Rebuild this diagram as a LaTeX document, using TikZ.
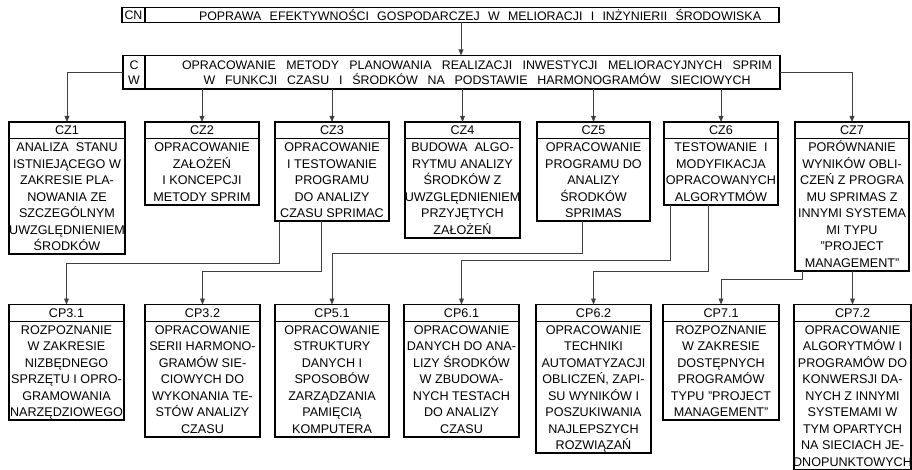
\documentclass[tikz,border=0pt]{standalone}
\usepackage{fontspec}
\setmainfont{Liberation Sans}
\usetikzlibrary{arrows.meta,calc}

\newlength\wordgap
\setlength\wordgap{7pt plus 2pt minus 1pt}

% task box: name, left x, top y, width, number of body lines, header, body
\newcommand\taskbox[7]{%
  \pgfmathsetmacro\boxh{16.5+#5*16.55}%
  \node[frame, minimum width=#4pt, minimum height=\boxh pt] (#1) at (#2,#3) {};
  \node[headtext] (#1-head) at ($(#1.north)+(0,8.3)$) {#6};
  \draw[divider] ($(#1.north west)+(0,16.5)$) -- ($(#1.north east)+(0,16.5)$);
  \node[bodytext] (#1-body) at ($(#1.north)+(0,17.3)$) {\spaceskip=\wordgap\relax\rule{0pt}{12pt}#7};
}

\begin{document}
\begin{tikzpicture}[x=1pt,y=-1pt,
  frame/.style={rectangle, draw=black, line width=1.9pt, anchor=north west, inner sep=0pt, outer sep=0pt},
  cell/.style={draw=black, line width=1.5pt},
  divider/.style={draw=black, line width=0.8pt},
  headtext/.style={inner sep=0pt, font=\fontsize{12.6}{15}\selectfont},
  bodytext/.style={anchor=north, inner sep=0pt, align=center,
    font=\fontsize{12.6}{16.55}\selectfont},
  toptext/.style={inner sep=0pt, align=center, font=\fontsize{12.4}{15}\selectfont},
  conn/.style={draw=black!75, line width=0.8pt, -{Triangle[length=6pt,width=4.8pt]}}]

\useasboundingbox[fill=white] (0,0) rectangle (912,470);

% main goal
\node[frame, minimum width=657pt, minimum height=15pt] (cn) at (122,7.5) {};
\draw[cell] ($(cn.north west)+(23,0)$) -- ($(cn.south west)+(23,0)$);
\node[toptext] (cn-tag) at ($(cn.west)+(11.5,0)$) {CN};
\node[toptext] (cn-text) at (480,15)
  {\makebox[562pt][s]{POPRAWA EFEKTYWNOŚCI GOSPODARCZEJ W MELIORACJI I INŻYNIERII ŚRODOWISKA}};

% work goal
\node[frame, minimum width=657pt, minimum height=33.5pt] (cw) at (123,55.5) {};
\draw[cell] ($(cw.north west)+(22,0)$) -- ($(cw.south west)+(22,0)$);
\node[toptext] (cw-tag) at ($(cw.west)+(11,0)$) {C\\W};
\node[toptext] (cw-text) at (477,73)
  {\makebox[590pt][s]{OPRACOWANIE METODY PLANOWANIA REALIZACJI INWESTYCJI MELIORACYJNYCH SPRIM}\\
   \makebox[547pt][s]{W FUNKCJI CZASU I ŚRODKÓW NA PODSTAWIE HARMONOGRAMÓW SIECIOWYCH}};

% partial goals
\taskbox{cz1}{9}{122}{116}{7}{CZ1}{ANALIZA STANU\\ISTNIEJĄCEGO W\\ZAKRESIE PLA-\\NOWANIA ZE\\SZCZEGÓLNYM\\UWZGLĘDNIENIEM\\ŚRODKÓW}
\taskbox{cz2}{145}{122}{114}{4}{CZ2}{OPRACOWANIE\\ZAŁOŻEŃ\\I KONCEPCJI\\METODY SPRIM}
\taskbox{cz3}{275}{122}{114}{5}{CZ3}{OPRACOWANIE\\I TESTOWANIE\\PROGRAMU\\DO ANALIZY\\CZASU SPRIMAC}
\taskbox{cz4}{405}{122}{115}{6}{CZ4}{BUDOWA ALGO-\\RYTMU ANALIZY\\ŚRODKÓW Z\\UWZGLĘDNIENIEM\\PRZYJĘTYCH\\ZAŁOŻEŃ}
\taskbox{cz5}{537}{122}{113}{5}{CZ5}{OPRACOWANIE\\PROGRAMU DO\\ANALIZY\\ŚRODKÓW\\SPRIMAS}
\taskbox{cz6}{664}{122}{114}{4}{CZ6}{TESTOWANIE I\\MODYFIKACJA\\OPRACOWANYCH\\ALGORYTMÓW}
\taskbox{cz7}{795}{122}{114}{8}{CZ7}{PORÓWNANIE\\WYNIKÓW OBLI-\\CZEŃ Z PROGRA\\MU SPRIMAS Z\\INNYMI SYSTEMA\\MI TYPU\\"PROJECT\\MANAGEMENT"}

% detailed tasks
\taskbox{cp31}{9}{304.5}{115}{6}{CP3.1}{ROZPOZNANIE\\W ZAKRESIE\\NIZBĘDNEGO\\SPRZĘTU I OPRO-\\GRAMOWANIA\\NARZĘDZIOWEGO}
\taskbox{cp32}{145}{304.5}{115}{7}{CP3.2}{OPRACOWANIE\\SERII HARMONO-\\GRAMÓW SIE-\\CIOWYCH DO\\WYKONANIA TE-\\STÓW ANALIZY\\CZASU}
\taskbox{cp51}{275}{304.5}{114}{7}{CP5.1}{OPRACOWANIE\\STRUKTURY\\DANYCH I\\SPOSOBÓW\\ZARZĄDZANIA\\PAMIĘCIĄ\\KOMPUTERA}
\taskbox{cp61}{404}{304.5}{115}{7}{CP6.1}{OPRACOWANIE\\DANYCH DO ANA-\\LIZY ŚRODKÓW\\W ZBUDOWA-\\NYCH TESTACH\\DO ANALIZY\\CZASU}
\taskbox{cp62}{536}{304.5}{115}{8}{CP6.2}{OPRACOWANIE\\TECHNIKI\\AUTOMATYZACJI\\OBLICZEŃ, ZAPI-\\SU WYNIKÓW I\\POSZUKIWANIA\\NAJLEPSZYCH\\ROZWIĄZAŃ}
\taskbox{cp71}{663}{304.5}{116}{6}{CP7.1}{ROZPOZNANIE\\W ZAKRESIE\\DOSTĘPNYCH\\PROGRAMÓW\\TYPU "PROJECT\\MANAGEMENT"}
\taskbox{cp72}{794}{304.5}{117}{9}{CP7.2}{OPRACOWANIE\\ALGORYTMÓW I\\PROGRAMÓW DO\\KONWERSJI DA-\\NYCH Z INNYMI\\SYSTEMAMI W\\TYM OPARTYCH\\NA SIECIACH JE-\\DNOPUNKTOWYCH}

% connectors
\draw[conn] ([xshift=10.5pt]cn.south) -- ([xshift=10.5pt]cn.south |- cw.north);
\draw[conn] (cw.west) -| (cz1.north);
\draw[conn] (cw.east) -| (cz7.north);
\foreach \t in {cz2,cz3,cz4,cz5,cz6}
  \draw[conn] (cw.south -| \t.north) -- (\t.north);

\draw[conn] ([xshift=4pt]cz3.south west) -- ++(0,42) -| (cp31.north);
\draw[conn] ([xshift=46pt]cz3.south west) -- ++(0,50) -| (cp32.north);
\draw[conn] ([xshift=45pt]cz5.south west) -- ++(0,32) -| (cp51.north);
\draw[conn] ([xshift=6pt]cz6.south west) -- ++(0,56) -| (cp61.north);
\draw[conn] ([xshift=44pt]cz6.south west) -- ++(0,67) -| (cp62.north);
\draw[conn] ([xshift=7pt]cz7.south west) -- ++(0,8) -| (cp71.north);
\draw[conn] (cz7.south -| cp72.north) -- (cp72.north);

\end{tikzpicture}
\end{document}
